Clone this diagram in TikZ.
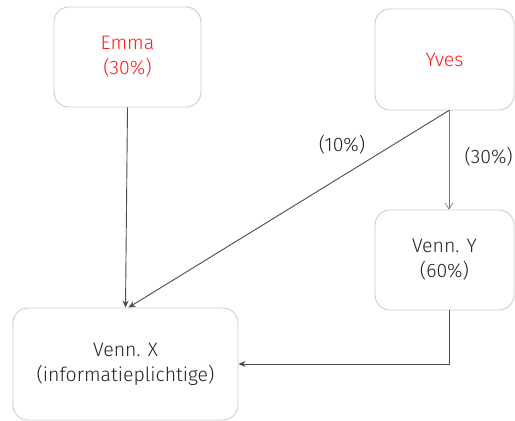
\documentclass[tikz,border=0pt]{standalone}
\usepackage{fontspec}
\setmainfont{Fira Sans Light}[BoldFont={Fira Sans}]
\usepackage{tikz}
\usetikzlibrary{positioning,calc,arrows.meta}
\definecolor{boxline}{HTML}{CCCCCC}
\definecolor{namered}{HTML}{FF1A1A}
\definecolor{txt}{HTML}{222222}
\tikzset{
  entity/.style={draw=boxline, line width=0.9pt, rounded corners=15pt, fill=white, align=center,
    font=\fontsize{19.5}{25}\selectfont, text=txt},
  conn/.style={draw=black!70, line width=0.9pt, -{Stealth[length=7pt,width=6pt]}},
  thinconn/.style={draw=black!55, line width=0.6pt, -{Straight Barb[length=6pt,width=8pt]}},
  share/.style={font=\fontsize{19.5}{20}\selectfont, text=txt, fill=white, inner sep=4pt}
}
\begin{document}
\begin{tikzpicture}[x=1pt,y=-1pt]
		\useasboundingbox (0,0) rectangle (515,421);
		\node[entity, minimum width=147pt, minimum height=100pt, text=namered] (emma) at (127.5,57) {Emma\\(30\%)};
		\node[entity, minimum width=139pt, minimum height=101pt, text=namered] (yves) at (444.5,59.5) {Yves};
		\node[entity, minimum width=139pt, minimum height=100pt] (vennY) at (444.5,260) {Venn. Y\\(60\%)};
		\node[entity, minimum width=225pt, minimum height=112pt] (vennX) at (125.5,364) {Venn. X\\(informatieplichtige)};
		
		\draw[conn] (emma.south)--(vennX.north);
		\draw[conn] ([xshift=4.5pt]yves.south)--([xshift=3pt]vennX.north);
		\draw[thinconn] ([xshift=4.5pt]yves.south)--([xshift=4.5pt]vennY.north);
		\draw[conn] ([xshift=4.5pt]vennY.south) |- (vennX.east);
		
		\node[share] (p10) at (342,145) {(10\%)};
		\node[share, anchor=east, inner sep=1pt] (p30) at (514,157) {(30\%)};
	\end{tikzpicture}
\end{document}
